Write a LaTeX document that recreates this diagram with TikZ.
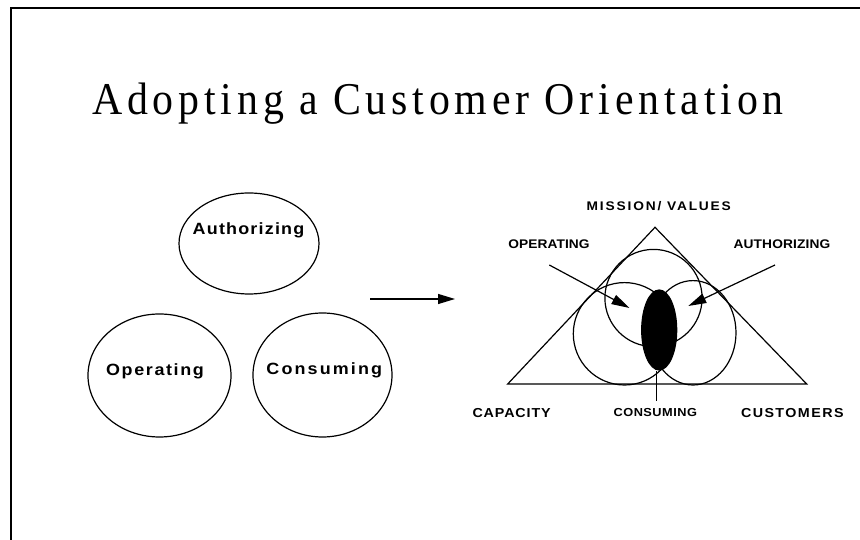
\documentclass[tikz,border=0pt]{standalone}
\usepackage{fontspec}
\setmainfont{Liberation Serif}
\setsansfont{Liberation Sans}
\usetikzlibrary{arrows.meta,shapes.geometric}
\newcommand{\lspc}[2]{{\addfontfeatures{LetterSpace=#1}#2}}
\newcommand{\widetxt}[2]{\scalebox{1.1}[1]{\lspc{#1}{#2}}}
\begin{document}
\begin{tikzpicture}[x=1pt,y=1pt,
  shp/.style={draw=black, line width=1.2pt},
  lbl/.style={font=\sffamily\bfseries\fontsize{16.3}{18}\selectfont, inner sep=0pt, anchor=base},
  small/.style={font=\sffamily\bfseries\fontsize{12.5}{14}\selectfont, inner sep=0pt, anchor=base},
  oval/.style={ellipse, draw=black, line width=1.2pt, inner sep=0pt},
  arr/.style={line width=1.2pt, -{Triangle[length=17pt,width=10pt]}},
  arrb/.style={line width=1.2pt, -{Triangle[length=18pt,width=10pt]}}
]
\useasboundingbox (0,0) rectangle (860,540);
\fill[white] (0,0) rectangle (860,540);
\draw[line width=2pt] (11,-2) -- (11,532.3) -- (862,532.3);

% title
\node[font=\fontsize{45.5}{50}\selectfont, inner sep=0pt, anchor=base west] (title) at (92,425)
  {\scalebox{0.92}[1]{\lspc{11.5}{Adopting a Customer Orientation}}};

% left group
\node[oval, minimum width=140pt, minimum height=101pt] (auth) at (249,296.5) {};
\node[oval, minimum width=143pt, minimum height=123pt] (oper) at (159.5,164.5) {};
\node[oval, minimum width=139pt, minimum height=124pt] (cons) at (322.5,165) {};
\node[lbl] (authl) at (248.5,305) {\widetxt{6.7}{Authorizing}};
\node[lbl] (operl) at (155,164.7) {\widetxt{9.2}{Operating}};
\node[lbl] (consl) at (324.3,165) {\widetxt{11.9}{Consuming}};

% middle arrow
\coordinate (m1) at (370,241);
\coordinate (m2) at (455,241);
\draw[arr] (m1) -- (m2);

% right diagram
\coordinate (apex) at (655,312.7);
\coordinate (bl) at (507.7,156);
\coordinate (br) at (806.7,156);
\draw[shp, line join=miter] (bl) -- (apex) -- (br) -- cycle;

\node[circle, shp, minimum size=97.2pt, inner sep=0pt] (topc) at (653.5,242) {};
\node[circle, shp, minimum size=102.4pt, inner sep=0pt] (lobel) at (624.5,206.2) {};
\node[ellipse, shp, minimum width=86pt, minimum height=104.4pt, inner sep=0pt] (lober) at (693,207.2) {};
\node[ellipse, draw=black, fill=black, line width=1.2pt, minimum width=35pt, minimum height=80pt, inner sep=0pt] (core) at (659.2,210) {};

\coordinate (cbot) at (656.7,139.3);
\draw[line width=1.2pt] (core.south -| cbot) -- (cbot);

\coordinate (oa) at (549.3,275);
\coordinate (ot) at (629.5,232);
\draw[arrb] (oa) -- (ot);
\coordinate (aa) at (775,275);
\coordinate (at) at (688.3,234);
\draw[arrb] (aa) -- (at);

% right labels
\node[small] (mv) at (658.8,329.3) {\widetxt{13.3}{MISSION/ VALUES}};
\node[small] (opl) at (549,291) {\widetxt{0.5}{OPERATING}};
\node[small] (aul) at (782,291) {\widetxt{1}{AUTHORIZING}};
\node[small, font=\sffamily\bfseries\fontsize{13}{15}\selectfont] (capl) at (511.6,122.3) {\widetxt{6.1}{CAPACITY}};
\node[small, font=\sffamily\bfseries\fontsize{11.6}{13}\selectfont] (conl) at (655.3,123.3) {\widetxt{3.8}{CONSUMING}};
\node[small, font=\sffamily\bfseries\fontsize{13}{15}\selectfont] (cusl) at (792.3,122.3) {\widetxt{10}{CUSTOMERS}};
\end{tikzpicture}
\end{document}
